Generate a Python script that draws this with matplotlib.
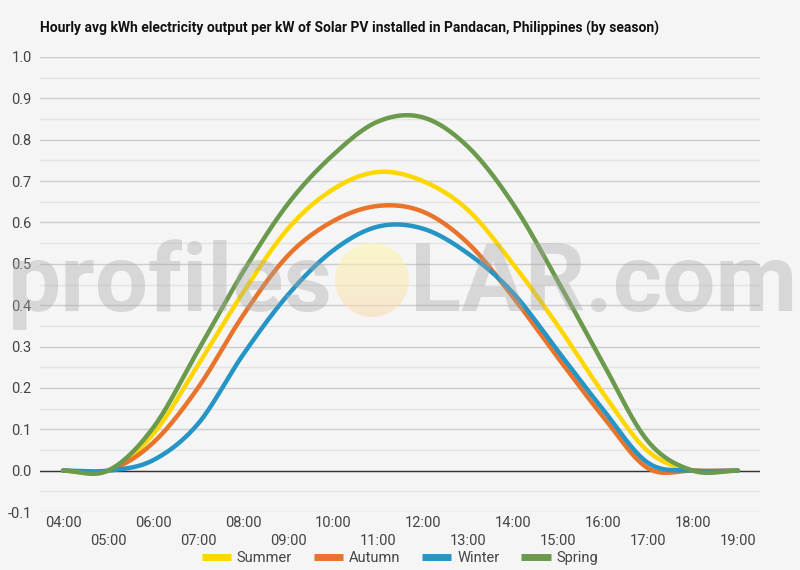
import numpy as np
import matplotlib
matplotlib.use("Agg")
import matplotlib.pyplot as plt
from matplotlib.patches import Circle

plt.rcParams["font.family"] = ["Roboto", "DejaVu Sans"]

# hourly averages, 04:00 .. 19:00
hours = list(range(4, 20))
hour_labels = ["%02d:00" % h for h in hours]
summer = [0.0, 0.0, 0.088, 0.255, 0.43, 0.585, 0.68, 0.722, 0.70, 0.63, 0.50, 0.35, 0.188, 0.047, 0.0, 0.0]
autumn = [0.0, 0.0, 0.067, 0.20, 0.375, 0.52, 0.603, 0.64, 0.626, 0.55, 0.42, 0.273, 0.131, 0.006, 0.0, 0.0]
winter = [0.0, 0.0, 0.025, 0.113, 0.28, 0.425, 0.532, 0.59, 0.585, 0.525, 0.43, 0.289, 0.148, 0.019, 0.0, 0.0]
spring = [0.0, 0.0, 0.103, 0.29, 0.48, 0.645, 0.763, 0.844, 0.854, 0.783, 0.645, 0.458, 0.26, 0.071, 0.0, 0.0]

series = [("Summer", summer, "#FFD700"),
          ("Autumn", autumn, "#E8732A"),
          ("Winter", winter, "#2595C6"),
          ("Spring", spring, "#6B9A4C")]


def smooth(x, y, n=30):
    # catmull-rom style curve through the points (like a "function" curve)
    x = np.asarray(x, float)
    y = np.asarray(y, float)
    m = np.zeros_like(y)
    m[1:-1] = (y[2:] - y[:-2]) / 2.0
    xs, ys = [], []
    for i in range(len(x) - 1):
        t = np.linspace(0, 1, n, endpoint=False)
        h00 = 2 * t**3 - 3 * t**2 + 1
        h10 = t**3 - 2 * t**2 + t
        h01 = -2 * t**3 + 3 * t**2
        h11 = t**3 - t**2
        xs.append(x[i] + t * (x[i + 1] - x[i]))
        ys.append(h00 * y[i] + h10 * m[i] + h01 * y[i + 1] + h11 * m[i + 1])
    xs.append([x[-1]])
    ys.append([y[-1]])
    return np.concatenate(xs), np.concatenate(ys)


bg = "#f5f5f5"
fig = plt.figure(figsize=(8, 5.7), dpi=100, facecolor=bg)
ax = fig.add_axes([40 / 800, 1 - 512 / 570, 720 / 800, 455 / 570])
ax.set_facecolor(bg)

for name, vals, col in series:
    sx, sy = smooth(hours, vals)
    ax.plot(sx, sy, color=col, linewidth=3.2, label=name, solid_capstyle="round", zorder=3)

ax.set_xlim(3.49, 19.49)
ax.set_ylim(-0.1, 1.0)
yt = np.arange(-0.1, 1.01, 0.1)
ax.set_yticks(yt)
ax.set_yticklabels(["%.1f" % v for v in yt])
ax.set_yticks(np.arange(-0.05, 1.0, 0.1), minor=True)
ax.grid(axis="y", which="major", color="#cccccc", linewidth=1, zorder=0)
ax.grid(axis="y", which="minor", color="#e3e3e3", linewidth=1, zorder=0)
ax.axhline(0, color="#333333", linewidth=1, zorder=2)

ax.set_xticks(hours[::2])
ax.set_xticklabels(hour_labels[::2])
ax.set_xticks(hours[1::2], minor=True)
ax.set_xticklabels(hour_labels[1::2], minor=True)
ax.tick_params(axis="x", which="major", length=0, pad=3, labelsize=10.5, labelcolor="#444444")
ax.tick_params(axis="x", which="minor", length=0, pad=16, labelsize=10.5, labelcolor="#444444")
ax.tick_params(axis="y", which="both", length=0, pad=6, labelsize=10.5, labelcolor="#444444")
for s in ax.spines.values():
    s.set_visible(False)

fig.text(40 / 800, 1 - 28 / 570, "Hourly avg kWh electricity output per kW of Solar PV installed in Pandacan, Philippines (by season)",
         fontsize=10, fontweight="bold", color="#111111", va="center", ha="left")

leg = fig.legend(loc="center", bbox_to_anchor=(0.5, 1 - 558 / 570), ncol=4, frameon=False,
                 fontsize=10.5, handlelength=2.0, handletextpad=0.4, columnspacing=1.5)
for line in leg.get_lines():
    line.set_linewidth(5)
    line.set_solid_capstyle("butt")
for t in leg.get_texts():
    t.set_color("#444444")

# watermark overlay
ov = fig.add_axes([0, 0, 1, 1], zorder=5)
ov.axis("off")
ov.patch.set_alpha(0)
sun = matplotlib.colors.LinearSegmentedColormap.from_list("sun", ["#fff9a8", "#f9d9b0"])
grad = np.linspace(0, 1, 100)[:, None] * np.ones((1, 2))
img = ov.imshow(grad, extent=(334, 410, 318, 242), cmap=sun, alpha=0.55, aspect="auto", zorder=1)
circ = Circle((372, 280), 37, transform=ov.transData, facecolor="none", edgecolor="none")
ov.add_patch(circ)
img.set_clip_path(circ)
ov.text(333, 311, "profiles", fontsize=68, fontweight="bold", color="#a8a8a8", alpha=0.38,
        ha="right", va="baseline", zorder=2)
ov.text(410, 311, "LAR.com", fontsize=68, fontweight="bold", color="#a8a8a8", alpha=0.38,
        ha="left", va="baseline", zorder=2)
ov.set_xlim(0, 800)
ov.set_ylim(570, 0)

fig.savefig("out.png", dpi=100, facecolor=bg)
